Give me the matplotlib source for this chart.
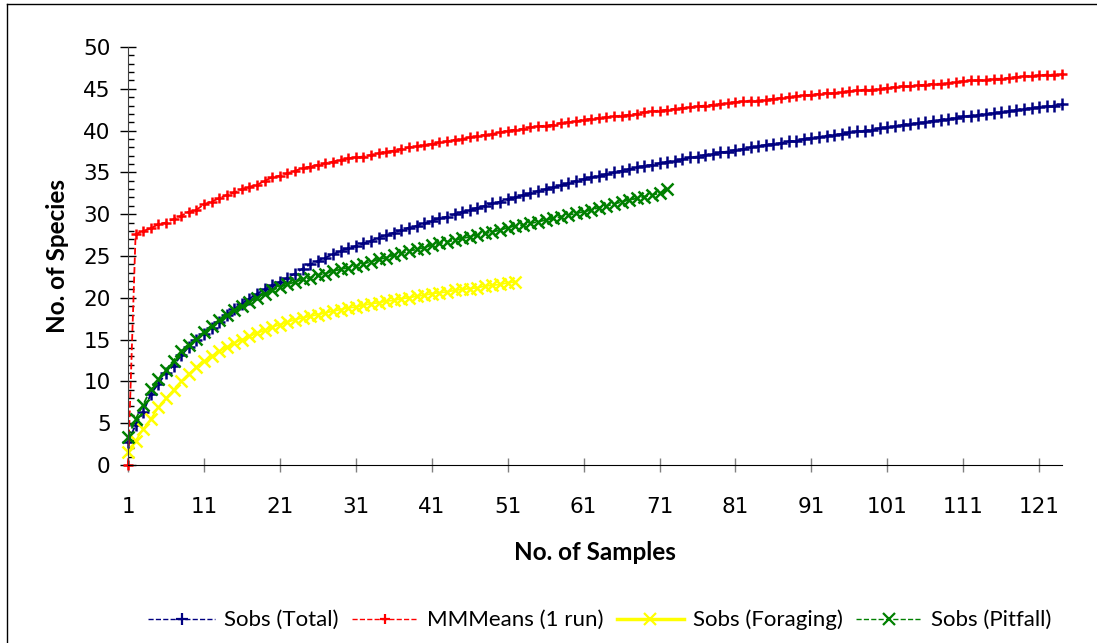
import matplotlib
matplotlib.use("Agg")
import matplotlib.pyplot as plt
from matplotlib.lines import Line2D
from matplotlib.ticker import MultipleLocator, FixedLocator
import numpy as np

# Species accumulation values
sobs_total = [
    2.7, 4.8, 6.3, 8.5, 9.7, 11.0, 11.9, 13.1, 14.1, 15.0,
    15.7, 16.4, 17.1, 18.0, 18.7, 19.3, 19.9, 20.5, 21.0, 21.5,
    21.9, 22.4, 22.9, 23.5, 24.0, 24.4, 24.8, 25.2, 25.6, 25.9,
    26.2, 26.5, 26.8, 27.2, 27.5, 27.8, 28.1, 28.4, 28.6, 28.9,
    29.2, 29.5, 29.7, 30.0, 30.3, 30.5, 30.8, 31.0, 31.3, 31.5,
    31.8, 32.0, 32.3, 32.5, 32.8, 33.0, 33.2, 33.5, 33.7, 34.0,
    34.2, 34.4, 34.6, 34.8, 35.0, 35.2, 35.4, 35.6, 35.8, 35.9,
    36.1, 36.3, 36.4, 36.6, 36.8, 36.9, 37.1, 37.2, 37.4, 37.5,
    37.7, 37.8, 38.0, 38.1, 38.3, 38.4, 38.5, 38.7, 38.8, 39.0,
    39.1, 39.2, 39.4, 39.5, 39.6, 39.8, 39.9, 40.0, 40.1, 40.3,
    40.4, 40.5, 40.7, 40.8, 40.9, 41.0, 41.2, 41.3, 41.4, 41.5,
    41.7, 41.8, 41.9, 42.0, 42.1, 42.2, 42.3, 42.5, 42.6, 42.7,
    42.8, 42.9, 43.0, 43.2,
]
mmmeans = [
    0.0, 27.6, 28.0, 28.3, 28.8, 29.0, 29.4, 29.8, 30.3, 30.5,
    31.2, 31.5, 31.9, 32.3, 32.6, 33.0, 33.3, 33.5, 34.0, 34.4,
    34.6, 34.9, 35.2, 35.5, 35.7, 35.9, 36.1, 36.3, 36.5, 36.7,
    36.8, 36.9, 37.1, 37.3, 37.5, 37.6, 37.8, 38.0, 38.1, 38.3,
    38.4, 38.6, 38.7, 38.9, 39.0, 39.2, 39.3, 39.5, 39.6, 39.8,
    40.0, 40.1, 40.2, 40.4, 40.5, 40.6, 40.7, 40.9, 41.0, 41.1,
    41.3, 41.4, 41.5, 41.6, 41.7, 41.8, 41.9, 42.0, 42.2, 42.3,
    42.4, 42.5, 42.6, 42.7, 42.8, 42.9, 43.0, 43.1, 43.2, 43.3,
    43.4, 43.5, 43.6, 43.6, 43.7, 43.8, 43.9, 44.0, 44.1, 44.2,
    44.3, 44.4, 44.5, 44.5, 44.6, 44.7, 44.8, 44.9, 44.9, 45.0,
    45.1, 45.2, 45.3, 45.3, 45.4, 45.5, 45.6, 45.6, 45.7, 45.8,
    45.9, 46.0, 46.0, 46.1, 46.2, 46.2, 46.3, 46.4, 46.5, 46.5,
    46.6, 46.7, 46.7, 46.8,
]
sobs_foraging = [
    1.5, 2.9, 4.3, 5.5, 6.9, 8.0, 9.0, 10.0, 10.9, 11.7,
    12.4, 13.0, 13.6, 14.1, 14.6, 15.0, 15.4, 15.8, 16.1, 16.5,
    16.8, 17.1, 17.4, 17.6, 17.8, 18.0, 18.2, 18.4, 18.6, 18.8,
    18.9, 19.1, 19.3, 19.4, 19.6, 19.7, 19.9, 20.0, 20.2, 20.3,
    20.5, 20.6, 20.7, 20.9, 21.0, 21.1, 21.2, 21.4, 21.5, 21.6,
    21.8, 21.9,
]
sobs_pitfall = [
    3.3, 5.5, 7.2, 9.1, 10.3, 11.4, 12.5, 13.6, 14.3, 15.1,
    15.9, 16.6, 17.3, 17.9, 18.5, 19.0, 19.5, 20.0, 20.5, 20.9,
    21.3, 21.6, 21.9, 22.2, 22.4, 22.7, 22.9, 23.2, 23.4, 23.6,
    23.8, 24.1, 24.3, 24.6, 24.8, 25.1, 25.3, 25.6, 25.8, 26.0,
    26.3, 26.5, 26.7, 26.9, 27.1, 27.3, 27.5, 27.7, 27.9, 28.1,
    28.4, 28.6, 28.7, 28.9, 29.1, 29.3, 29.5, 29.7, 29.9, 30.1,
    30.3, 30.5, 30.8, 31.0, 31.2, 31.5, 31.7, 31.9, 32.1, 32.3,
    32.5, 33.0,
]
x_ticks = [1, 11, 21, 31, 41, 51, 61, 71, 81, 91, 101, 111, 121]
labels = ["Sobs (Total)", "MMMeans (1 run)", "Sobs (Foraging)", "Sobs (Pitfall)"]

NARROW = ["Lato", "DejaVu Sans"]

fig = plt.figure(figsize=(10.97, 6.43), dpi=100)
ax = fig.add_axes([128 / 1097, 1 - 465 / 643, (1062 - 128) / 1097, 418 / 643])

styles = [
    (sobs_total, "#000080", "--", "+", 8.5),
    (mmmeans, "#ff0000", "--", "+", 7.5),
    (sobs_foraging, "#ffff00", "-", "x", 8.5),
    (sobs_pitfall, "#008000", "--", "x", 8.5),
]
handles = []
for vals, col, ls, mk, ms in styles:
    n = np.arange(1, len(vals) + 1)
    ax.plot(n, vals, color=col, ls=ls, lw=1.3, marker=mk, ms=ms, mew=1.8,
            clip_on=False)
    handles.append(Line2D([], [], color=col, ls=ls, lw=1.0 if ls == "--" else 2.5,
                          marker=mk, ms=ms, mew=1.6))

ax.set_xlim(1, 124)
ax.set_ylim(0, 50)
ax.yaxis.set_major_locator(MultipleLocator(5))
ax.yaxis.set_minor_locator(MultipleLocator(1))
ax.xaxis.set_major_locator(FixedLocator(x_ticks))
ax.set_xticklabels([str(t) for t in x_ticks])

for s in ("top", "right"):
    ax.spines[s].set_visible(False)
ax.spines["left"].set_color("#404040")
ax.spines["bottom"].set_color("black")

ax.tick_params(axis="y", which="major", direction="inout", length=11, width=1,
               labelsize=15.5, pad=7)
ax.tick_params(axis="y", which="minor", direction="in", length=4.5, width=1)
ax.tick_params(axis="x", which="major", direction="inout", length=10, width=1,
               color="#808080", labelsize=15.5, pad=18)

ax.set_xlabel("No. of Samples", fontsize=17.5, fontweight="bold", family=NARROW,
              labelpad=17)
ax.set_ylabel("No. of Species", fontsize=17.5, fontweight="bold", family=NARROW,
              labelpad=10)

fig.legend(handles, labels, loc="center", bbox_to_anchor=(600 / 1097, 1 - 620 / 643),
           ncol=4, frameon=False, handlelength=3.0, handletextpad=0.4,
           columnspacing=0.6, prop={"family": NARROW, "size": 16})

# chart border (left and top edges visible in the reference)
fig.add_artist(Line2D([7 / 1097, 7 / 1097], [0, 1 - 4 / 643], color="black",
                      lw=1, transform=fig.transFigure))
fig.add_artist(Line2D([7 / 1097, 1], [1 - 4 / 643, 1 - 4 / 643], color="black",
                      lw=1, transform=fig.transFigure))

fig.savefig("out.png", dpi=100)
